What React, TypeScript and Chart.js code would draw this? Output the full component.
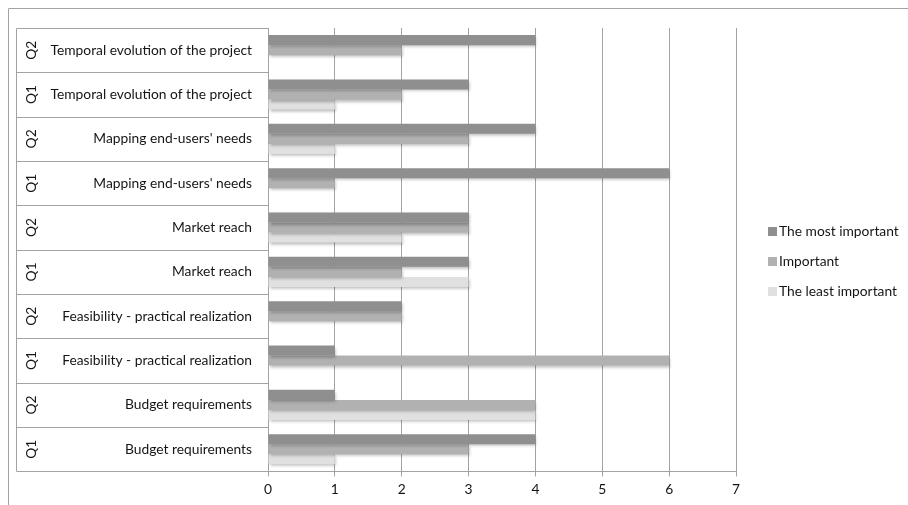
import React, { useEffect, useRef } from 'react';
import { Chart, registerables } from 'chart.js';

Chart.register(...registerables);

const topics = [
  'Temporal evolution of the project',
  'Temporal evolution of the project',
  "Mapping end-users' needs",
  "Mapping end-users' needs",
  'Market reach',
  'Market reach',
  'Feasibility - practical realization',
  'Feasibility - practical realization',
  'Budget requirements',
  'Budget requirements',
];
const quarters = ['Q2', 'Q1', 'Q2', 'Q1', 'Q2', 'Q1', 'Q2', 'Q1', 'Q2', 'Q1'];
const mostImportant = [4, 3, 4, 6, 3, 3, 2, 1, 1, 4];
const important = [2, 2, 3, 1, 3, 2, 2, 6, 4, 3];
const leastImportant = [0, 1, 1, 0, 2, 3, 0, 0, 4, 1];
const seriesNames = ['The most important', 'Important', 'The least important'];
const seriesColors = ['#8f8f8f', '#b1b1b1', '#e0e0e0'];
const xMin = 0;
const xMax = 7;

const FONT = 'Lato, "Open Sans", sans-serif';
const LINE = '#a3a3a3';
const TEXT = '#151515';
const FS = 13.8;

const framePlugin = {
  id: 'frame',
  beforeDraw(chart: any) {
    const ctx = chart.ctx;
    ctx.save();
    ctx.strokeStyle = LINE;
    ctx.lineWidth = 1;
    ctx.beginPath();
    ctx.moveTo(0.5, chart.height);
    ctx.lineTo(0.5, 0.5);
    ctx.lineTo(chart.width, 0.5);
    ctx.stroke();
    ctx.restore();
  },
};

const shadowPlugin = {
  id: 'barShadow',
  beforeDatasetsDraw(chart: any) {
    const ctx = chart.ctx;
    ctx.save();
    ctx.shadowColor = 'rgba(0,0,0,0.28)';
    ctx.shadowBlur = 3;
    ctx.shadowOffsetX = 1;
    ctx.shadowOffsetY = 2;
  },
  afterDatasetsDraw(chart: any) {
    chart.ctx.restore();
  },
};

const tablePlugin = {
  id: 'categoryTable',
  afterDraw(chart: any) {
    const ctx = chart.ctx;
    const { left, top, bottom, right } = chart.chartArea;
    const y = chart.scales.y;
    const n = topics.length;
    const h = (bottom - top) / n;
    const tableLeft = 8.5;
    ctx.save();
    ctx.strokeStyle = LINE;
    ctx.lineWidth = 1;
    ctx.beginPath();
    for (let i = 0; i <= n; i++) {
      const yy = Math.round(top + i * h) + 0.5;
      ctx.moveTo(tableLeft, yy);
      ctx.lineTo(left, yy);
    }
    ctx.moveTo(tableLeft, Math.round(top) + 0.5);
    ctx.lineTo(tableLeft, Math.round(bottom) + 0.5);
    ctx.stroke();

    ctx.fillStyle = TEXT;
    ctx.font = FS + 'px ' + FONT;
    ctx.textBaseline = 'middle';
    for (let i = 0; i < n; i++) {
      const cy = y.getPixelForValue(i);
      ctx.textAlign = 'right';
      ctx.fillText(topics[i], left - 16, cy);
      ctx.save();
      ctx.translate(tableLeft + 15.5, cy);
      ctx.rotate(-Math.PI / 2);
      ctx.textAlign = 'center';
      ctx.fillText(quarters[i], 0, 0);
      ctx.restore();
    }

    // legend
    const mid = (top + bottom) / 2 + 11.5;
    const bx = right + 32;
    chart.data.datasets.forEach((ds: any, i: number) => {
      const cy = mid + (i - 1) * 30;
      ctx.fillStyle = ds.backgroundColor;
      ctx.fillRect(bx, Math.round(cy - 4.5), 9, 9);
      ctx.fillStyle = TEXT;
      ctx.textAlign = 'left';
      ctx.fillText(ds.label, bx + 11, cy);
    });
    ctx.restore();
  },
};

export default function App() {
  const ref = useRef<HTMLCanvasElement>(null);
  useEffect(() => {
    document.body.style.overflow = 'hidden';
    const chart = new Chart(ref.current!, {
      type: 'bar',
      data: {
        labels: topics.map((t, i) => quarters[i] + ' ' + t),
        datasets: [
          { label: seriesNames[0], data: mostImportant, backgroundColor: seriesColors[0] },
          { label: seriesNames[1], data: important, backgroundColor: seriesColors[1] },
          { label: seriesNames[2], data: leastImportant, backgroundColor: seriesColors[2] },
        ],
      },
      options: {
        indexAxis: 'y',
        responsive: false,
        animation: false,
        layout: { padding: { left: 260, top: 20, right: 172, bottom: 25 } },
        datasets: { bar: { categoryPercentage: 0.68, barPercentage: 1.0, borderWidth: 0 } },
        plugins: { legend: { display: false }, tooltip: { enabled: false } },
        scales: {
          x: {
            min: xMin,
            max: xMax,
            z: 1,
            ticks: { stepSize: 1, color: TEXT, font: { family: FONT, size: FS }, padding: 5 },
            grid: { color: LINE, lineWidth: 1, tickLength: 5, drawTicks: true },
            border: { color: LINE },
          },
          y: { display: false },
        },
      },
      plugins: [framePlugin, shadowPlugin, tablePlugin],
    });
    return () => chart.destroy();
  }, []);
  return (
    <div style={{ position: 'fixed', left: 8, top: 8, width: 900, height: 520 }}>
      <canvas ref={ref} width={900} height={520} />
    </div>
  );
}
